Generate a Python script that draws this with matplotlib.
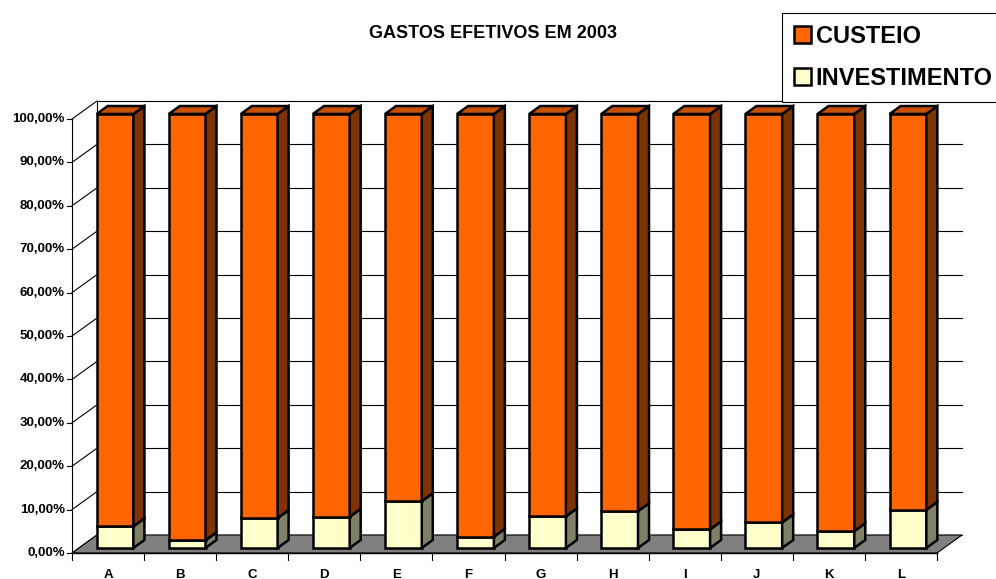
import matplotlib.pyplot as plt
from matplotlib.patches import Polygon, Patch
import numpy as np

categorias = ['A', 'B', 'C', 'D', 'E', 'F', 'G', 'H', 'I', 'J', 'K', 'L']
investimento = [5.0, 1.8, 6.9, 7.2, 10.8, 2.6, 7.3, 8.5, 4.3, 5.9, 3.9, 8.8]
custeio = [100 - v for v in investimento]
y_ticks = [0, 10, 20, 30, 40, 50, 60, 70, 80, 90, 100]

plt.rcParams['font.family'] = ['Liberation Sans', 'DejaVu Sans']
plt.rcParams['font.weight'] = 'bold'

# oblique depth offset (data units) used to fake the 3D look
DX, DY = 0.347, 4.15
BAR_W = 0.51
F0, F1 = 0.28, 0.72

cores = {
    'custeio': ('#FF6600', '#7F3300', '#C85000'),
    'investimento': ('#FFFFCC', '#808066', '#CCCCA3'),
}


def proj(x, y, f):
    return (x + f * DX, y + f * DY)


def face(ax, pts, cor, z):
    ax.add_patch(Polygon(pts, closed=True, facecolor=cor, edgecolor='black',
                         linewidth=1.8, joinstyle='miter', clip_on=False, zorder=z))


fig = plt.figure(figsize=(9.96, 5.79), dpi=100)
ax = fig.add_axes([72 / 996, 26 / 579, 865 / 996, 434 / 579])
n = len(categorias)
ax.set_xlim(-0.5, n - 0.5)
ax.set_ylim(0, 100)
ax.axis('off')

x0, x1 = -0.5, n - 0.5

# back wall grid + left wall diagonals
for t in y_ticks:
    bx0, by = proj(x0, t, 1)
    bx1, _ = proj(x1, t, 1)
    ax.plot([bx0, bx1], [by, by], color='black', lw=0.8, clip_on=False, zorder=1)
    ax.plot([x0, bx0], [t, by], color='black', lw=0.8, clip_on=False, zorder=1)
    ax.plot([x0 - 0.07, x0], [t, t], color='black', lw=0.8, clip_on=False, zorder=1)
    ax.text(x0 - 0.1, t, f'{t:.2f}'.replace('.', ',') + '%', ha='right', va='center',
            fontsize=9.5, fontweight='bold')
bx, btop = proj(x0, 100, 1)
ax.plot([bx, bx], [proj(x0, 0, 1)[1], btop], color='black', lw=0.8, clip_on=False, zorder=1)
ax.plot([x0, x0], [0, 100], color='black', lw=0.8, clip_on=False, zorder=1)

# floor
floor = [proj(x0, 0, 0), proj(x1, 0, 0), proj(x1, 0, 1), proj(x0, 0, 1)]
ax.add_patch(Polygon(floor, closed=True, facecolor='#808080', edgecolor='black',
                     linewidth=0.8, clip_on=False, zorder=2))

# category axis
ax.plot([x0, x1], [0, 0], color='black', lw=1.0, clip_on=False, zorder=3)
for k in range(n + 1):
    ax.plot([x0 + k, x0 + k], [0, -1.6], color='black', lw=0.8, clip_on=False, zorder=3)
for i, c in enumerate(categorias):
    ax.text(i, -5.0, c, ha='center', va='center', fontsize=9.5, fontweight='bold')

# stacked bars
for i in range(n):
    xa, xb = i - BAR_W / 2, i + BAR_W / 2
    base = 0
    for nome, valor in (('investimento', investimento[i]), ('custeio', custeio[i])):
        frente, lado, topo = cores[nome]
        y0, y1 = base, base + valor
        z = 5 + i * 0.01
        face(ax, [proj(xa, y0, F0), proj(xb, y0, F0), proj(xb, y1, F0), proj(xa, y1, F0)], frente, z)
        face(ax, [proj(xb, y0, F0), proj(xb, y0, F1), proj(xb, y1, F1), proj(xb, y1, F0)], lado, z)
        face(ax, [proj(xa, y1, F0), proj(xb, y1, F0), proj(xb, y1, F1), proj(xa, y1, F1)], topo, z)
        base = y1

fig.text(493 / 996, 1 - 34 / 579, 'GASTOS EFETIVOS EM 2003', ha='center', va='center',
         fontsize=13, fontweight='bold')

handles = [Patch(facecolor=cores['custeio'][0], edgecolor='black', linewidth=1.8, label='CUSTEIO'),
           Patch(facecolor=cores['investimento'][0], edgecolor='black', linewidth=1.8, label='INVESTIMENTO')]
leg = fig.legend(handles=handles, loc='upper left', bbox_to_anchor=(782 / 996, 1 - 13 / 579),
                 prop={'size': 17, 'weight': 'bold'}, handlelength=0.72, handleheight=0.72,
                 handletextpad=0.2, labelspacing=0.82, borderpad=0.5, borderaxespad=0,
                 fancybox=False, framealpha=1, edgecolor='black')
leg.get_frame().set_linewidth(0.8)

fig.savefig('out.png', dpi=100)
